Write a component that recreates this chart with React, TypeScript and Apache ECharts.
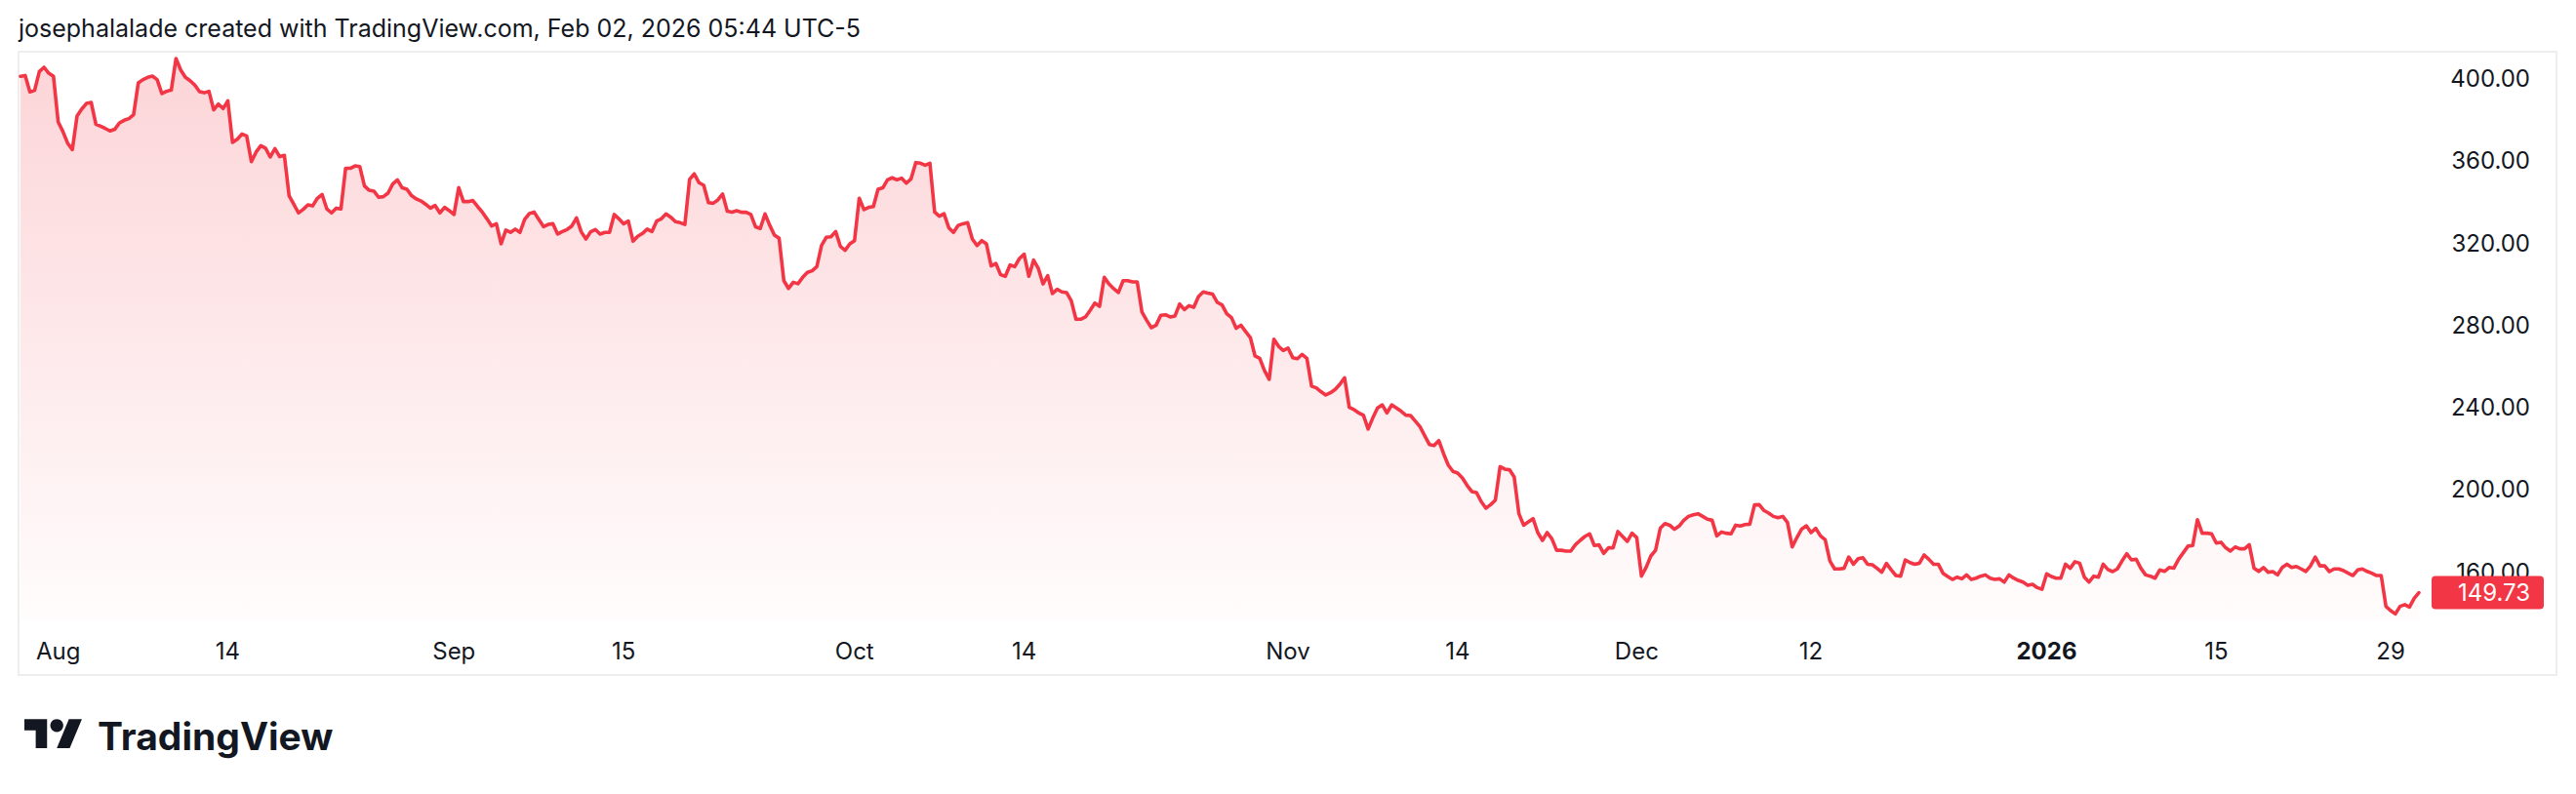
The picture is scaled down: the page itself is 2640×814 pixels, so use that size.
import React, { useEffect, useRef } from "react";
import * as echarts from "echarts";

// ---- data (price, 4 bars per trading day, Jul 30 2025 → Jan 30 2026) ----
const julAug = [
  401.2, 401.6, 393.6, 394.4, 403.5, 405.6, 402.7, 401.2, 379.0, 374.3,
  368.7, 365.5, 381.9, 385.3, 388.0, 388.5, 377.9, 376.9, 375.8, 374.6,
  375.4, 378.5, 379.8, 380.6, 382.5, 398.0, 399.6, 400.7, 401.3, 399.6,
  392.8, 393.9, 394.5, 409.9, 404.3, 400.7, 399.1, 396.9, 393.7, 393.2,
  393.9, 384.9, 387.7, 385.5, 389.3, 369.0, 370.6, 373.1, 372.2, 359.7,
  364.3, 367.4, 366.2, 361.9, 366.0, 362.1, 362.7, 343.1, 338.9, 334.7,
  336.4, 338.6, 338.1, 341.8, 343.7, 336.7, 334.7, 337.0, 336.6, 356.4,
  356.4, 357.6, 357.3, 347.8, 345.7, 345.3, 342.3, 342.6, 344.3, 348.8,
  350.8, 346.9, 346.2, 343.1, 341.5, 340.5, 338.9, 337.0,
];
const augSep = [
  338.3, 334.7, 337.4, 335.8, 333.9, 347.0, 340.2, 340.2, 340.7, 337.8,
  335.1, 331.8, 328.3, 329.4, 319.6, 326.3, 325.2, 326.8, 325.2, 331.5,
  334.4, 335.1, 331.5, 328.0, 329.1, 329.4, 324.4, 325.6, 326.6, 328.3,
  332.3, 325.5, 322.0, 325.5, 326.6, 324.4, 325.2, 325.2, 333.9, 331.8,
  329.4, 330.7, 320.9, 323.3, 324.7, 326.8, 325.6, 330.7, 331.8, 334.2,
  332.6, 330.4, 329.9, 329.1, 351.0, 353.7, 349.4, 348.1, 339.7, 339.4,
  341.0, 343.9, 335.5, 335.1, 335.8, 335.0, 335.0, 333.9, 327.9, 327.1,
  334.2, 328.7, 323.9, 322.3, 301.7, 297.9, 300.9, 300.2, 303.3, 305.7,
  306.5, 308.5, 318.8, 322.8, 323.1, 325.6, 318.4, 316.5,
];
const sepOct = [
  319.6, 321.2, 341.8, 336.3, 337.4, 337.8, 346.2, 346.9, 350.8, 351.8,
  350.8, 351.6, 349.2, 351.3, 359.2, 358.9, 357.9, 358.9, 335.1, 333.1,
  334.3, 327.5, 325.2, 328.6, 329.4, 329.9, 322.0, 318.8, 321.2, 319.6,
  308.9, 310.1, 304.6, 303.8, 309.3, 308.5, 312.5, 314.6, 303.8, 311.7,
  307.7, 300.1, 304.1, 295.4, 297.5, 296.2, 295.9, 291.9, 282.9, 282.9,
  284.0, 287.2, 290.8, 289.2, 303.3, 300.1, 297.8, 295.9, 301.7, 301.7,
  301.1, 301.1, 286.4, 282.4, 278.8, 280.0, 284.8, 285.1, 284.0, 284.5,
  290.3, 287.6, 289.5, 288.7, 294.0, 296.2, 295.6, 295.1, 291.1, 289.9,
  285.6, 283.7, 278.5, 280.0, 276.9, 274.0,
];
const octNov = [
  265.0, 263.9, 257.9, 253.6, 273.2, 269.7, 267.7, 268.9, 264.2, 263.7,
  265.8, 263.9, 250.3, 249.5, 247.6, 246.0, 247.1, 248.7, 251.2, 254.4,
  240.0, 238.9, 237.3, 236.2, 229.4, 234.9, 239.7, 241.2, 237.3, 241.2,
  239.7, 238.1, 236.2, 236.0, 233.3, 230.6, 226.2, 221.9, 221.4, 223.8,
  217.5, 211.9, 208.8, 208.0, 205.6, 202.0, 199.0, 198.5, 194.1, 190.9,
  192.6, 194.8, 211.1, 209.9, 209.6, 206.1, 188.2, 182.6, 184.2, 185.8,
  179.0, 175.2, 179.0, 176.0, 170.4, 170.4, 170.0, 170.0, 173.1, 175.2,
  177.1, 178.4, 172.7, 173.0, 168.9, 171.6, 171.6, 179.5, 177.1, 174.7,
  178.7, 176.6, 157.8, 162.1, 167.6, 170.4, 181.1,
];
const novDec = [
  183.4, 182.6, 180.6, 182.2, 185.0, 186.9, 187.7, 188.2, 186.9, 185.5,
  185.0, 177.4, 179.3, 178.7, 178.4, 182.6, 182.2, 182.9, 183.1, 192.5,
  192.6, 189.8, 188.5, 186.9, 186.3, 186.9, 183.9, 172.0, 176.6, 180.7,
  182.3, 179.0, 181.1, 177.4, 175.5, 165.2, 161.3, 161.3, 161.6, 167.1,
  163.6, 166.3, 166.8, 163.6, 163.3, 161.6, 159.7, 164.0, 160.9, 158.1,
  157.8, 165.7, 164.4, 163.6, 164.1, 168.1, 166.0, 163.6, 163.6, 159.2,
  157.6, 156.2, 157.3, 156.5, 158.4, 156.2, 156.8, 157.8, 158.4, 156.8,
  156.2, 156.5, 154.9, 158.4, 156.8, 155.7, 154.9, 153.3, 153.8, 152.2,
  151.4, 158.9, 157.6, 156.8, 156.8, 163.6, 161.6,
];
const decJan = [
  164.8, 164.1, 157.3, 154.9, 157.8, 157.3, 163.6, 161.0, 160.0, 161.3,
  165.2, 168.7, 165.7, 166.0, 161.6, 158.4, 157.8, 156.8, 160.8, 160.1,
  162.0, 161.7, 166.0, 169.2, 172.4, 172.7, 185.3, 178.7, 178.7, 178.4,
  173.9, 174.3, 171.6, 170.0, 172.0, 171.1, 171.1, 173.1, 161.7, 160.1,
  162.0, 159.7, 160.0, 158.4, 162.0, 163.6, 162.0, 162.5, 161.3, 160.1,
  162.8, 167.1, 162.8, 162.8, 160.0, 161.3, 161.3, 160.5, 159.2, 158.1,
  160.8, 161.3, 160.1, 159.2, 158.1, 158.1, 143.1, 141.0, 139.4, 143.1,
  143.9, 142.7, 147.0, 149.73,
];

// time-axis labels and the bar index each one sits on
const tickIndex = [8, 44, 92, 128, 177, 213, 269, 305, 343, 380, 430, 466, 503];
const tickText = ["Aug", "14", "Sep", "15", "Oct", "14", "Nov", "14", "Dec", "12", "2026", "15", "29"];
const boldTicks = ["2026"];
const priceTicks = [160, 200, 240, 280, 320, 360, 400];
const headerText = "josephalalade created with TradingView.com, Feb 02, 2026 05:44 UTC-5";
const brandText = "TradingView";

const RED = "#F23645";
const INK = "#131722";
const FONT = "Inter, 'Noto Sans', sans-serif";

echarts.graphic.registerShape(
  "tvMark",
  echarts.graphic.extendPath("M14 22H7V11H0V4h14v18zM28 22h-8l7.5-18h8L28 22z", {})
);

export default function App() {
  const ref = useRef<HTMLDivElement>(null);

  useEffect(() => {
    document.body.style.margin = "0";
    const el = ref.current;
    if (!el) return;
    const chart = echarts.init(el, null, { renderer: "svg" });

    const values = [...julAug, ...augSep, ...sepOct, ...octNov, ...novDec, ...decJan];
    const categories = values.map((_, i) => String(i));
    const tickMap = new Map<number, string>();
    tickIndex.forEach((idx, k) => tickMap.set(idx, tickText[k]));
    const last = values[values.length - 1];

    chart.setOption({
      animation: false,
      backgroundColor: "#ffffff",
      grid: {
        left: 21,
        right: 161,
        top: 53,
        bottom: 178,
        containLabel: false,
        outerBoundsMode: "none",
      },
      xAxis: {
        type: "category",
        data: categories,
        boundaryGap: false,
        axisLine: { show: false },
        axisTick: { show: false },
        splitLine: { show: false },
        axisLabel: {
          interval: (i: number) => tickMap.has(i),
          formatter: (v: string) => {
            const t = tickMap.get(Number(v)) ?? "";
            return boldTicks.includes(t) ? `{b|${t}}` : t;
          },
          margin: 19,
          color: INK,
          fontSize: 24,
          fontFamily: FONT,
          rich: {
            b: { fontWeight: "bold", fontSize: 24, fontFamily: FONT, color: INK },
          },
        },
      },
      yAxis: {
        type: "value",
        position: "right",
        min: 136.25,
        max: 413.2,
        splitLine: { show: false },
        axisLine: { show: false },
        axisTick: { show: false },
        axisLabel: {
          customValues: priceTicks,
          formatter: (v: number) => v.toFixed(2),
          align: "right",
          margin: 114,
          color: INK,
          fontSize: 24,
          fontFamily: FONT,
        },
      },
      series: [
        {
          type: "line",
          data: values,
          symbol: "none",
          lineStyle: { color: RED, width: 3.6, join: "round", cap: "round" },
          areaStyle: {
            color: new echarts.graphic.LinearGradient(0, 0, 0, 1, [
              { offset: 0, color: "rgba(242,54,69,0.30)" },
              { offset: 1, color: "rgba(242,54,69,0.02)" },
            ]),
          },
          z: 3,
        },
      ],
    });

    const py = chart.convertToPixel({ yAxisIndex: 0 }, last) as number;

    chart.setOption({
      graphic: [
        {
          type: "text",
          left: 19,
          top: 16,
          style: { text: headerText, fill: INK, font: `25px ${FONT}` },
          z: 10,
        },
        {
          type: "rect",
          shape: { x: 19, y: 53, width: 2601, height: 639 },
          style: { fill: "none", stroke: "#eeeeee", lineWidth: 2 },
          silent: true,
          z: 1,
        },
        {
          type: "tvMark",
          x: 25,
          y: 730.5,
          scaleX: 1.66,
          scaleY: 1.66,
          style: { fill: INK },
          z: 10,
        },
        {
          type: "circle",
          shape: { cx: 25 + 20 * 1.66, cy: 730.5 + 8 * 1.66, r: 4 * 1.66 },
          style: { fill: INK },
          z: 10,
        },
        {
          type: "text",
          x: 100,
          y: 754,
          style: {
            text: brandText,
            fill: INK,
            font: `bold 39px ${FONT}`,
            verticalAlign: "middle",
            align: "left",
          },
          z: 10,
        },
        {
          type: "rect",
          shape: { x: 2492, y: py - 17, width: 115, height: 34, r: 4 },
          style: { fill: RED },
          z: 20,
        },
        {
          type: "text",
          x: 2593,
          y: py,
          style: {
            text: last.toFixed(2),
            fill: "#ffffff",
            font: `24px ${FONT}`,
            align: "right",
            verticalAlign: "middle",
          },
          z: 21,
        },
      ],
    });

    return () => chart.dispose();
  }, []);

  return (
    <div
      ref={ref}
      style={{ position: "absolute", left: 0, top: 0, width: 2640, height: 814, background: "#fff" }}
    />
  );
}
